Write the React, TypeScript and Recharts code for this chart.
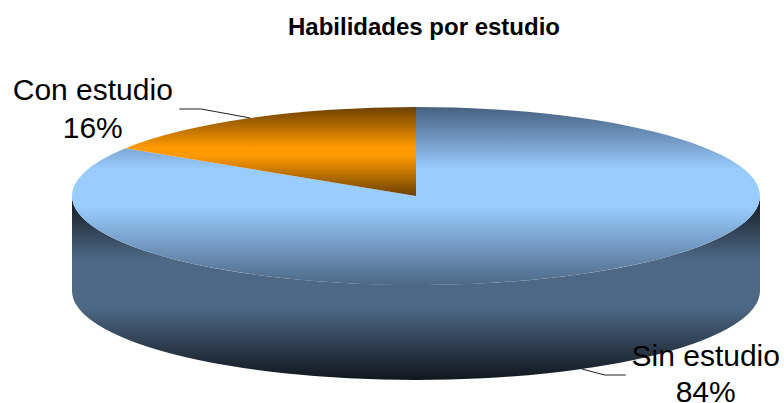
import React from "react";
import { PieChart, Pie, Cell } from "recharts";

const categories = ["Sin estudio", "Con estudio"];
const values = [84, 16];
const title = "Habilidades por estudio";
const data = categories.map((name, i) => ({ name, value: values[i] }));

const W = 784;
const H = 403;
const CX = 416;
const CY = 196;
const RX = 344;
const RY = 89;
const DEPTH = 95;
const FONT = "'Liberation Sans', Arial, sans-serif";
const RAD = Math.PI / 180;

const topFill = ["url(#topBlue)", "url(#topOrange)"];

function Slice(props: any) {
  const { cx, cy, outerRadius, startAngle, endAngle, payload } = props;
  const idx = categories.indexOf(payload?.name ?? props.name);
  const ry = (outerRadius * RY) / RX;
  const pt = (a: number, dy = 0) =>
    `${cx + outerRadius * Math.cos(a * RAD)} ${cy - ry * Math.sin(a * RAD) + dy}`;
  const hi = Math.max(startAngle, endAngle);
  const lo = Math.min(startAngle, endAngle);
  const large = hi - lo > 180 ? 1 : 0;
  const top = `M ${cx} ${cy} L ${pt(hi)} A ${outerRadius} ${ry} 0 ${large} 1 ${pt(lo)} Z`;
  const a1 = Math.min(hi, 0);
  const a2 = Math.max(lo, -180);
  const wall =
    a1 > a2
      ? `M ${pt(a1)} A ${outerRadius} ${ry} 0 0 1 ${pt(a2)} L ${pt(a2, DEPTH)} A ${outerRadius} ${ry} 0 0 0 ${pt(a1, DEPTH)} Z`
      : null;
  return (
    <g>
      {wall && <path d={wall} fill="url(#wallBlue)" stroke="none" />}
      <path d={top} fill={topFill[idx]} stroke="none" />
    </g>
  );
}

function SliceLabel(props: any) {
  const { cx, cy, outerRadius, midAngle, percent, name } = props;
  const ry = (outerRadius * RY) / RX;
  const c = Math.cos(midAngle * RAD);
  const s = Math.sin(midAngle * RAD);
  const lower = s < 0;
  const side = c > 0 ? 1 : -1;
  const ax = cx + outerRadius * c;
  const ay = cy - ry * s + (lower ? DEPTH : 0);
  const line = lower
    ? `M ${ax} ${ay} L ${ax + 23} ${ay + 6} L ${ax + 44} ${ay + 6}`
    : `M ${ax} ${ay} L ${ax - 49} ${ay - 9} L ${ax - 71} ${ay - 9}`;
  const tx = lower ? ax + 124 : ax - 157.5;
  const y1 = lower ? ay - 3 : ay - 18;
  const y2 = lower ? ay + 33 : ay + 20;
  return (
    <g>
      <path d={line} fill="none" stroke="#222" strokeWidth={1} />
      <text x={tx} y={y1} textAnchor="middle" fontFamily={FONT} fontSize={30} fill="#000">
        {name}
      </text>
      <text x={tx} y={y2} textAnchor="middle" fontFamily={FONT} fontSize={30} fill="#000">
        {`${Math.round(percent * 100)}%`}
      </text>
    </g>
  );
}

export default function App() {
  return (
    <div style={{ position: "absolute", left: 0, top: 0, width: W, height: H, background: "#fff", overflow: "hidden" }}>
      <PieChart width={W} height={H} margin={{ top: 0, right: 0, bottom: 0, left: 0 }}>
        <defs>
          <linearGradient id="topBlue" gradientUnits="userSpaceOnUse" x1="0" y1="107" x2="0" y2="285">
            <stop offset="0" stopColor="#466180" />
            <stop offset="0.35" stopColor="#99ccff" />
            <stop offset="0.56" stopColor="#99ccff" />
            <stop offset="1" stopColor="#4d6885" />
          </linearGradient>
          <linearGradient id="topOrange" gradientUnits="userSpaceOnUse" x1="0" y1="107" x2="0" y2="196">
            <stop offset="0" stopColor="#6b4000" />
            <stop offset="0.45" stopColor="#ff9900" />
            <stop offset="0.55" stopColor="#ff9900" />
            <stop offset="1" stopColor="#6b4000" />
          </linearGradient>
          <linearGradient id="wallBlue" gradientUnits="userSpaceOnUse" x1="0" y1="200" x2="0" y2="380">
            <stop offset="0" stopColor="#141b23" />
            <stop offset="0.33" stopColor="#4d6885" />
            <stop offset="0.6" stopColor="#4d6885" />
            <stop offset="1" stopColor="#10161d" />
          </linearGradient>
        </defs>
        <text x={424} y={35} textAnchor="middle" fontFamily={FONT} fontWeight="bold" fontSize={24} fill="#000">
          {title}
        </text>
        <Pie
          data={data}
          dataKey="value"
          nameKey="name"
          cx={CX}
          cy={CY}
          innerRadius={0}
          outerRadius={RX}
          startAngle={90}
          endAngle={-270}
          paddingAngle={0}
          stroke="none"
          isAnimationActive={false}
          shape={Slice}
          label={SliceLabel}
          labelLine={false}
        >
          {data.map((d) => (
            <Cell key={d.name} />
          ))}
        </Pie>
      </PieChart>
    </div>
  );
}
